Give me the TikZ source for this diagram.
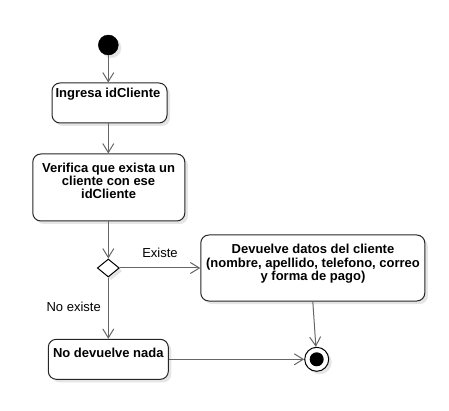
\documentclass[tikz,border=0pt]{standalone}
\usepackage{fontspec}
\setmainfont{Liberation Sans}
\usetikzlibrary{arrows.meta,shapes.geometric,shadows}
\begin{document}
\begin{tikzpicture}[x=1pt,y=-1pt,
  shad/.style={drop shadow={shadow xshift=3pt,shadow yshift=-3pt,fill=black!10,opacity=1}},
  act/.style={draw=black!85,line width=1pt,rounded corners=8pt,fill=white,inner sep=0pt,shad},
  lbl/.style={font=\fontsize{13}{13.2}\selectfont\bfseries,align=center,inner sep=0pt,anchor=north},
  guard/.style={font=\fontsize{13}{13.2}\selectfont,inner sep=0pt,anchor=north},
  conn/.style={draw=black!60,line width=1pt,-{Straight Barb[length=9pt,width=11pt,line width=1pt]}},
  startnode/.style={circle,fill=black,draw=black,minimum size=20pt,inner sep=0pt,shad},
  endnode/.style={circle,fill=white,draw=black,line width=1pt,minimum size=24pt,inner sep=0pt,shad},
  endin/.style={circle,fill=black,minimum size=14pt,inner sep=0pt},
  decision/.style={diamond,draw=black,line width=1pt,fill=white,minimum width=22pt,minimum height=18pt,inner sep=0pt,shad}]
\useasboundingbox (0,0) rectangle (449,411);
% nodes
\node[startnode] (start) at (108.3,45) {};
\node[act,minimum width=115pt,minimum height=40pt] (ing) at (109.5,103) {};
\node[lbl] (ingt) at (108,88.3) {Ingresa idCliente};
\node[act,minimum width=152pt,minimum height=67pt] (ver) at (108.8,187.5) {};
\node[lbl] (vert) at (108.6,162.7) {Verifica que exista un\\cliente con ese\\idCliente};
\node[decision] (dia) at (108.3,268) {};
\node[act,minimum width=224pt,minimum height=66pt] (dev) at (312.8,268) {};
\node[lbl] (devt) at (313,244.3) {Devuelve datos del cliente\\(nombre, apellido, telefono, correo\\y forma de pago)};
\node[act,minimum width=120pt,minimum height=40pt] (nod) at (108.3,359.3) {};
\node[lbl] (nodt) at (108.3,348.3) {No devuelve nada};
\node[endnode] (end) at (316.7,359.3) {};
\node[endin] (endi) at (end) {};
\node[guard] (gex) at (160,248.3) {Existe};
\node[guard] (gno) at (73.7,301.7) {No existe};
% connectors
\draw[conn] (start) -- (start |- ing.north);
\draw[conn] (ing.south -| start) -- (ver.north -| start);
\draw[conn] (ver.south -| dia.north) -- (dia.north);
\draw[conn] (dia.east) -- (dev.west |- dia.east);
\draw[conn] (dia.south) -- (dia.south |- nod.north);
\draw[conn] (dev.south) -- (end);
\draw[conn] (nod.east) -- (end.west);
\end{tikzpicture}
\end{document}
